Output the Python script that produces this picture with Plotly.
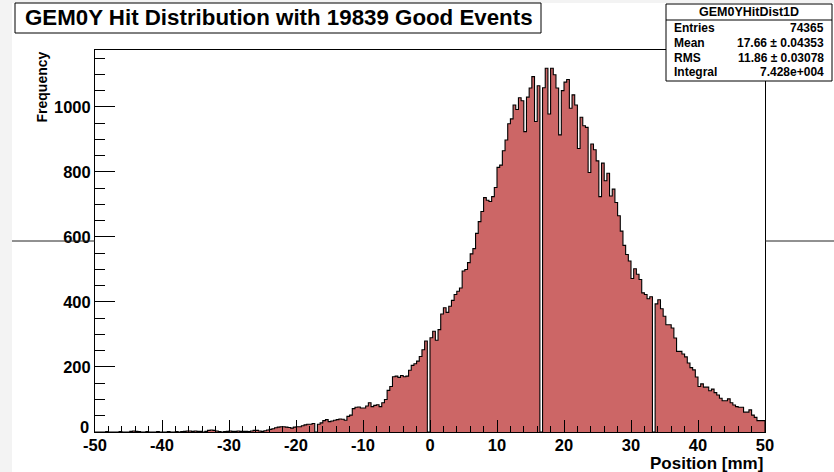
import numpy as np
import plotly.graph_objects as go

# Histogram binning (GEM0Y strip positions, 0.4 mm pitch)
x_min, x_max, n_bins = -50.0, 50.0, 250

# Bin contents, left to right
counts = [
    0, 0, 0, 0, 1, 0, 0, 0, 0, 1, 0, 0, 0,
    2, 3, 2, 1,
    0, 0, 1, 0, 0, 0, 1, 0, 0, 0, 1, 0, 0, 1, 0, 1,
    2, 3, 3, 2, 3, 2, 2,
    0,
    2, 5, 6, 5, 3,
    1, 0, 1, 2, 3, 2, 2, 3,
    2, 2, 2, 1, 3, 5, 5, 3, 2, 4, 6,
    8, 10, 13, 15, 16, 16, 15, 14, 12, 15, 16, 16, 19, 22, 24, 24, 26,
    0,
    24, 28, 35, 38, 32, 34, 36, 38, 40, 39, 36,
    48, 52, 72, 76, 77, 74, 74, 80, 90, 78, 82, 84, 78, 90,
    100, 128, 140, 170, 172, 168, 174, 170, 172, 190, 205, 210, 218, 232, 253, 280,
    0,
    290, 310, 282, 315, 363, 382, 368, 387, 405, 423, 433, 443, 495, 500, 521,
    548, 564, 611, 647, 678, 721, 713, 709, 724, 752, 814, 821, 865, 898, 948,
    963, 1006, 992, 1028, 1019, 924, 1030, 1058, 1093, 955, 1065,
    0,
    1059, 1119, 978, 1119, 1099, 1058, 914, 1050, 1076, 1084, 996, 1037, 1006,
    872, 968, 942, 937, 798, 886, 868, 834, 724, 827, 773, 796, 726, 747, 706,
    665, 618, 574, 546, 526, 472, 502, 485, 469, 428, 423, 410, 416,
    0,
    394, 407, 379, 356, 330, 330, 320, 289, 248, 248, 240, 231, 212, 198, 191,
    169, 140, 148, 138, 138, 127, 132, 121, 114, 104, 96, 96, 102, 90, 83, 78,
    76, 76, 61, 61, 68, 52, 45, 35, 35, 35,
]

x_tick_vals = [-50, -40, -30, -20, -10, 0, 10, 20, 30, 40, 50]
x_tick_text = ["-50", "-40", "-30", "-20", "-10", "0", "10", "20", "30", "40", "50"]
y_tick_vals = [200, 400, 600, 800, 1000]
y_tick_text = ["200", "400", "600", "800", "1000"]
y_zero_label = "0"

title_text = "GEM0Y Hit Distribution with 19839 Good Events"
x_title = "Position [mm]"
y_title = "Frequency"
hist_name = "GEM0YHitDist1D"
stats_labels = ["Entries", "Mean", "RMS", "Integral"]
stats_values = ["74365", "17.66 \u00b1 0.04353", "11.86 \u00b1 0.03078", "7.428e+004"]

FILL = "#cc6666"
FONT = "Liberation Sans, Arial, Helvetica, sans-serif"

# Canvas geometry (pixels)
W, H = 834, 472
L, R, T, B = 95, 69, 50, 40
PW, PH = W - L - R, H - T - B


def fx(px):
    """pixel column -> paper x"""
    return (px - L) / PW


def fy(py):
    """pixel row (from top) -> paper y"""
    return (H - B - py) / PH


edges = np.linspace(x_min, x_max, n_bins + 1)
xs = np.append(edges, x_max)
ys = np.append(np.append(counts, counts[-1]), 0)
y_top = max(counts) * 1.05

fig = go.Figure()
fig.add_trace(go.Scatter(
    x=xs, y=ys, mode="lines", line_shape="hv",
    line=dict(color="black", width=1.1),
    fill="tozeroy", fillcolor=FILL, hoverinfo="skip",
))

shapes = []
# window strips around the canvas
shapes.append(dict(type="rect", xref="paper", yref="paper", layer="below",
                   x0=fx(0), x1=fx(12), y0=fy(H), y1=fy(0),
                   fillcolor="#f3f3f3", line=dict(width=0)))
shapes.append(dict(type="rect", xref="paper", yref="paper", layer="below",
                   x0=fx(0), x1=fx(W), y0=fy(3), y1=fy(0),
                   fillcolor="#f3f3f3", line=dict(width=0)))
# pad border line crossing outside the frame
for a, b in [(12, L), (W - R, W)]:
    shapes.append(dict(type="line", xref="paper", yref="paper",
                       x0=fx(a), x1=fx(b), y0=fy(241), y1=fy(241),
                       line=dict(color="#222222", width=1)))
# title box
shapes.append(dict(type="rect", xref="paper", yref="paper",
                   x0=fx(15), x1=fx(541), y0=fy(33), y1=fy(3),
                   fillcolor="white", line=dict(color="black", width=1)))
# statistics box
shapes.append(dict(type="rect", xref="paper", yref="paper",
                   x0=fx(666), x1=fx(832), y0=fy(81), y1=fy(4),
                   fillcolor="white", line=dict(color="black", width=1)))
shapes.append(dict(type="line", xref="paper", yref="paper",
                   x0=fx(666), x1=fx(832), y0=fy(20), y1=fy(20),
                   line=dict(color="black", width=1)))

annotations = []
annotations.append(dict(text=title_text, xref="paper", yref="paper",
                        x=fx(278.5), y=fy(18), xanchor="center", yanchor="middle",
                        showarrow=False,
                        font=dict(family=FONT, size=22.3, color="black", weight="bold")))
annotations.append(dict(text=hist_name, xref="paper", yref="paper",
                        x=fx(749), y=fy(12), xanchor="center", yanchor="middle",
                        showarrow=False,
                        font=dict(family=FONT, size=12.5, color="black", weight="bold")))
row_y = [28, 43, 58, 72]
for lab, val, yy in zip(stats_labels, stats_values, row_y):
    annotations.append(dict(text=lab, xref="paper", yref="paper",
                            x=fx(672), y=fy(yy), xanchor="left", yanchor="middle",
                            showarrow=False,
                            font=dict(family=FONT, size=12, color="black", weight="bold")))
    annotations.append(dict(text=val, xref="paper", yref="paper",
                            x=fx(826), y=fy(yy), xanchor="right", yanchor="middle",
                            showarrow=False,
                            font=dict(family=FONT, size=12, color="black", weight="bold")))
# zero label of the y axis sits slightly above the corner
annotations.append(dict(text=y_zero_label, xref="paper", yref="paper",
                        x=fx(91), y=fy(427), xanchor="right", yanchor="middle",
                        showarrow=False,
                        font=dict(family=FONT, size=16.5, color="black", weight="bold")))
annotations.append(dict(text=x_title, xref="paper", yref="paper",
                        x=1.0, y=fy(463), xanchor="right", yanchor="middle",
                        showarrow=False,
                        font=dict(family=FONT, size=17, color="black", weight="bold")))
annotations.append(dict(text=y_title, xref="paper", yref="paper",
                        x=fx(41), y=1.0, xanchor="center", yanchor="top",
                        textangle=-90, showarrow=False,
                        font=dict(family=FONT, size=14, color="black", weight="bold")))

fig.update_layout(
    width=W, height=H, margin=dict(l=L, r=R, t=T, b=B, pad=0),
    paper_bgcolor="white", plot_bgcolor="white", showlegend=False,
    font=dict(family=FONT, color="black"),
    shapes=shapes, annotations=annotations,
)
fig.update_xaxes(
    range=[x_min, x_max], showgrid=False, zeroline=False,
    showline=True, linecolor="black", linewidth=1, mirror=True,
    ticks="inside", ticklen=12, tickwidth=1, tickcolor="black",
    tickmode="array", tickvals=x_tick_vals, ticktext=x_tick_text,
    ticklabelstandoff=-2,
    tickfont=dict(family=FONT, size=16.5, color="black", weight="bold"),
    minor=dict(ticks="inside", ticklen=6, tickwidth=1, tickcolor="black",
               tick0=0, dtick=2, showgrid=False),
)
fig.update_yaxes(
    range=[0, y_top], showgrid=False, zeroline=False,
    showline=True, linecolor="black", linewidth=1, mirror=True,
    ticks="inside", ticklen=20, tickwidth=1, tickcolor="black",
    tickmode="array", tickvals=y_tick_vals, ticktext=y_tick_text,
    tickfont=dict(family=FONT, size=16.5, color="black", weight="bold"),
    minor=dict(ticks="inside", ticklen=10, tickwidth=1, tickcolor="black",
               tick0=0, dtick=50, showgrid=False),
)

fig.write_html("out.html")
